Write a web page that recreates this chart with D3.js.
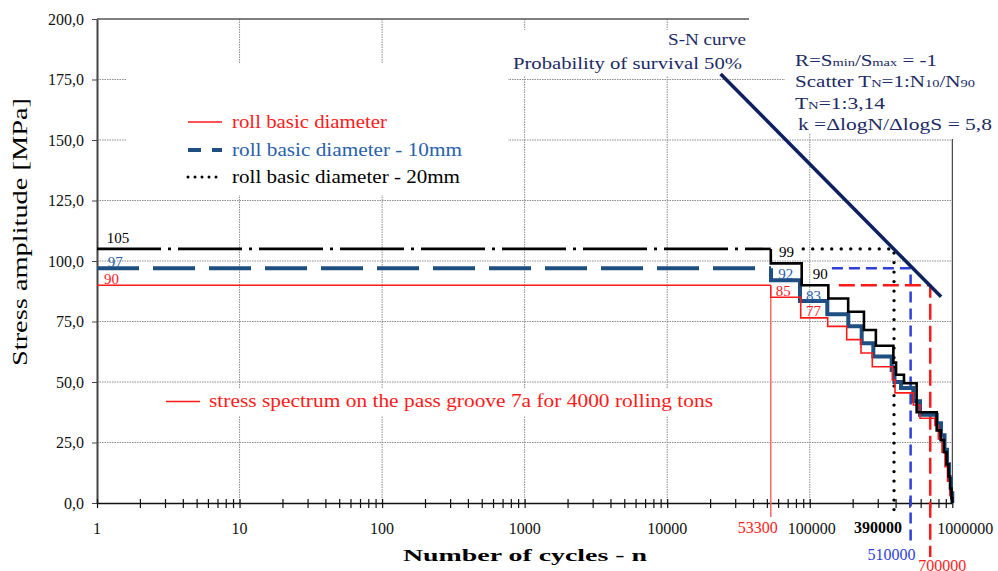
<!DOCTYPE html>
<html>
<head>
<meta charset="utf-8">
<script src="https://cdn.jsdelivr.net/npm/d3@7"></script>
<style>
  body { margin: 0; background: #fff; }
  svg { display: block; font-family: "Liberation Serif", "Times New Roman", Times, serif; }
</style>
</head>
<body>
<div id="chart"></div>
<script>
// ---- data ----
let stressTicks = [0, 25, 50, 75, 100, 125, 150, 175, 200];
let cycleTicks = [1, 10, 100, 1000, 10000, 100000, 1000000];

// roll basic diameter - 20mm (black)
let blackCycles = [1, 53300, 87800, 135000, 186000, 240000, 291000, 386000, 403000, 458000,
                   562000, 777000, 829000, 875000, 911000, 940000, 964000, 987000, 1000000];
let blackStress = [105, 99, 90, 84.5, 79, 71.5, 65, 58, 53, 49.5,
                   37.5, 30, 26, 21, 16, 11, 6, 2, 0];

// roll basic diameter - 10mm (blue)
let blueCycles = [1, 53500, 85400, 132800, 186400, 231400, 279200, 375700, 393000, 436800,
                  532600, 593500, 777300, 833200, 881800, 918200, 948300, 979400, 1000000];
let blueStress = [97, 92, 83.5, 78, 73, 66, 60.5, 55, 50, 47.5,
                  42, 36.5, 33, 28, 22, 16, 10, 4, 0];

// roll basic diameter (red)
let redCycles = [1, 53300, 86400, 133600, 181600, 228800, 274700, 379500, 396300, 532600,
                 593500, 756300, 797800, 847000, 888900, 925500, 963600, 1000000];
let redStress = [90, 85, 76.5, 73, 67.5, 62, 56.3, 50.8, 45.5, 40.5,
                 35, 32, 26.5, 21, 15, 9, 3, 0];

// S-N curve, probability of survival 50%
let snCycles = [23700, 834000];
let snStress = [177.3, 85.2];

// intersection markers (20mm, 10mm, basic)
let markerFrom = [90000, 143000, 160000];
let markerCycles = [390000, 510000, 700000];
let markerStress = [105, 97, 90];

// value labels on the steps
let labelText = ["105", "97", "90", "99", "92", "85", "83", "77", "90"];
let labelCycles = [1.17, 1.19, 1.12, 60900, 60000, 57800, 94200, 94200, 104900];
let labelStress = [105, 97, 90, 99, 92, 85, 83, 77, 90];
let labelSeries = ["k", "b", "r", "k", "b", "r", "b", "r", "k"];

// special x labels
let specialCycles = [53300, 390000, 510000, 700000];
let specialText = ["53300", "390000", "510000", "700000"];

// ---- drawing ----
let w = 998;
let h = 571;

let colors = {
  r: "#ff1a1a",
  b: "#1f4e80",
  k: "#000000",
  bText: "#2a5fab",
  navy: "#0e2060",
  navyText: "#1b2a66",
  markBlue: "#2f3fd8"
};

let svg = d3.select("#chart")
  .append("svg")
    .attr("width", w)
    .attr("height", h)
    .style("background-color", "white");

let x = d3.scaleLog().domain([1, 1000000]).range([97, 952.3]);
let y = d3.scaleLinear().domain([0, 200]).range([503, 19]);

//grid
let grid = svg.append("g")
  .attr("stroke", "#8c8c8c")
  .attr("stroke-width", 1)
  .attr("stroke-dasharray", "1.5,1");

grid.selectAll(".hg")
  .data(stressTicks.filter(d => d > 0 && d < 200))
  .enter().append("line")
    .attr("x1", x(1)).attr("x2", x(1000000))
    .attr("y1", d => y(d)).attr("y2", d => y(d));

grid.selectAll(".vg")
  .data(cycleTicks.filter(d => d > 1 && d < 1000000))
  .enter().append("line")
    .attr("x1", d => x(d)).attr("x2", d => x(d))
    .attr("y1", y(200)).attr("y2", y(0));

// white boxes behind the text blocks
let boxes = [[126, 63, 382, 132], [505, 30, 245, 46], [785, 0, 213, 133], [160, 388, 560, 28]];
svg.selectAll(".box")
  .data(boxes)
  .enter().append("rect")
    .attr("x", d => d[0]).attr("y", d => d[1])
    .attr("width", d => d[2]).attr("height", d => d[3])
    .attr("fill", "white");

// frame
svg.append("line")
  .attr("x1", x(1)).attr("x2", 749)
  .attr("y1", y(200)).attr("y2", y(200))
  .attr("stroke", "#555").attr("stroke-width", 1.5);
svg.append("line")
  .attr("x1", x(1000000)).attr("x2", x(1000000))
  .attr("y1", 139).attr("y2", y(0))
  .attr("stroke", "#222").attr("stroke-width", 1);

//y axis
let fmt = d3.format(".1f");
let yAxis = svg.append("g")
  .attr("transform", "translate(" + x(1) + ",0)")
  .style("font-size", "16px")
  .style("font-family", "'Liberation Serif', 'Times New Roman', serif")
  .call(d3.axisLeft(y).tickValues(stressTicks).tickSize(5).tickSizeOuter(0).tickPadding(8)
    .tickFormat(d => fmt(d).replace(".", ",")));
yAxis.select(".domain").attr("stroke", "#444").attr("stroke-width", 2);
yAxis.selectAll(".tick line").attr("stroke", "#444");
yAxis.selectAll(".tick text").attr("fill", "#111");

//x axis (ticks only)
let xAxis = svg.append("g")
  .attr("transform", "translate(0," + y(0) + ")")
  .call(d3.axisBottom(x).tickValues(x.ticks()).tickFormat("").tickSizeOuter(0));
xAxis.select(".domain").attr("stroke", "#111").attr("stroke-width", 1.5);
xAxis.selectAll(".tick line").attr("y1", -4).attr("y2", 5).attr("stroke", "#111").attr("stroke-width", 1.2);

// x labels
let decadeShift = [0, 0, 0, 0, 0, 2, 13];
svg.selectAll(".xl")
  .data(cycleTicks)
  .enter().append("text")
    .attr("x", (d, i) => x(d) + decadeShift[i])
    .attr("y", 534)
    .attr("text-anchor", "middle")
    .style("font-size", "16px")
    .attr("fill", "#111")
    .text(d => d);

let specialShift = [-13, -16, -19, 12];
let specialY = [533, 533, 560, 571];
let specialColor = [colors.r, "#000", colors.markBlue, colors.r];
svg.selectAll(".xs")
  .data(specialCycles)
  .enter().append("text")
    .attr("x", (d, i) => x(d) + specialShift[i])
    .attr("y", (d, i) => specialY[i])
    .attr("text-anchor", "middle")
    .style("font-size", "16px")
    .style("font-weight", (d, i) => i == 1 ? "bold" : "normal")
    .attr("fill", (d, i) => specialColor[i])
    .text((d, i) => specialText[i]);

// axis titles
svg.append("text")
  .attr("x", 525).attr("y", 561)
  .attr("text-anchor", "middle")
  .style("font-size", "17px").style("font-weight", "bold")
  .attr("textLength", 244).attr("lengthAdjust", "spacingAndGlyphs")
  .text("Number of cycles - n");

svg.append("text")
  .attr("transform", "translate(27,232) rotate(-90)")
  .attr("text-anchor", "middle")
  .style("font-size", "21px")
  .attr("textLength", 268).attr("lengthAdjust", "spacingAndGlyphs")
  .text("Stress amplitude [MPa]");

// marker lines (drawn under the spectra)
let markerColor = ["#000", colors.markBlue, colors.r];
let markerDash = ["0,9.5", "11,6", "16,6"];
let markerWidth = [3.4, 2.5, 2.5];
let markerFoot = [10, 42, 54];
markerCycles.forEach(function(m, i) {
  let pts = [[x(markerFrom[i]), y(markerStress[i])], [x(m), y(markerStress[i])], [x(m), y(0) + markerFoot[i]]];
  svg.append("path")
    .attr("d", d3.line()(pts))
    .attr("fill", "none")
    .attr("stroke", markerColor[i])
    .attr("stroke-width", markerWidth[i])
    .attr("stroke-linecap", i == 0 ? "round" : "butt")
    .attr("stroke-dasharray", markerDash[i]);
});

// thin red drop line at first step of basic spectrum
svg.append("line")
  .attr("x1", x(redCycles[1])).attr("x2", x(redCycles[1]))
  .attr("y1", y(redStress[1])).attr("y2", y(0) + 14)
  .attr("stroke", "#f26a6a").attr("stroke-width", 1.5);

// spectra
let stepLine = d3.line().x(d => x(d[0])).y(d => y(d[1])).curve(d3.curveStepAfter);

function drawSpectrum(cyc, st, color, width, firstDash) {
  // first long level
  svg.append("line")
    .attr("x1", x(cyc[0])).attr("x2", x(cyc[1]))
    .attr("y1", y(st[0])).attr("y2", y(st[0]))
    .attr("stroke", color).attr("stroke-width", width)
    .attr("stroke-dasharray", firstDash);
  let pts = [[cyc[1], st[0]]];
  for (let i = 1; i < cyc.length; i++) {
    pts.push([cyc[i], st[i]]);
  }
  svg.append("path")
    .attr("d", stepLine(pts))
    .attr("fill", "none")
    .attr("stroke", color)
    .attr("stroke-width", width);
}

drawSpectrum(blueCycles, blueStress, colors.b, 4, "42,14");
drawSpectrum(redCycles, redStress, colors.r, 1.6, null);
drawSpectrum(blackCycles, blackStress, colors.k, 2.6, "64,7,3,7");

// S-N curve
svg.append("line")
  .attr("x1", x(snCycles[0])).attr("x2", x(snCycles[1]))
  .attr("y1", y(snStress[0])).attr("y2", y(snStress[1]))
  .attr("stroke", colors.navy).attr("stroke-width", 3.5);

// step labels
let labelColor = { k: "#000", b: colors.bText, r: colors.r };
let labelLift = { k: 6, b: 1, r: 1 };
svg.selectAll(".lbl")
  .data(labelText)
  .enter().append("text")
    .attr("x", (d, i) => x(labelCycles[i]))
    .attr("y", (d, i) => y(labelStress[i]) - labelLift[labelSeries[i]])
    .style("font-size", "15px")
    .attr("fill", (d, i) => labelColor[labelSeries[i]])
    .text(d => d);

// legend
let legendText = ["roll basic diameter", "roll basic diameter - 10mm", "roll basic diameter - 20mm"];
let legendColor = [colors.r, colors.bText, "#000"];
let legendLen = [155, 230, 228];
let legendY = [122, 150, 177];
let legendStroke = [colors.r, colors.b, "#000"];
let legendDash = [null, "13,11", "0,7"];
let legendWidth = [1.6, 4, 3];
legendText.forEach(function(t, i) {
  svg.append("line")
    .attr("x1", 188).attr("x2", 222)
    .attr("y1", legendY[i]).attr("y2", legendY[i])
    .attr("stroke", legendStroke[i])
    .attr("stroke-width", legendWidth[i])
    .attr("stroke-linecap", i == 2 ? "round" : "butt")
    .attr("stroke-dasharray", legendDash[i]);
  svg.append("text")
    .attr("x", 232).attr("y", legendY[i] + 6)
    .style("font-size", "18px")
    .attr("fill", legendColor[i])
    .attr("textLength", legendLen[i]).attr("lengthAdjust", "spacingAndGlyphs")
    .text(t);
});

svg.append("line")
  .attr("x1", 166).attr("x2", 200)
  .attr("y1", 401.5).attr("y2", 401.5)
  .attr("stroke", colors.r).attr("stroke-width", 1.6);
svg.append("text")
  .attr("x", 209).attr("y", 407)
  .style("font-size", "18px")
  .attr("fill", colors.r)
  .attr("textLength", 504).attr("lengthAdjust", "spacingAndGlyphs")
  .text("stress spectrum on the pass groove 7a for 4000 rolling tons");

// S-N annotation
svg.append("text")
  .attr("x", 668).attr("y", 45)
  .style("font-size", "16px").attr("fill", colors.navyText)
  .attr("textLength", 78).attr("lengthAdjust", "spacingAndGlyphs")
  .text("S-N curve");
svg.append("text")
  .attr("x", 513).attr("y", 69)
  .style("font-size", "16px").attr("fill", colors.navyText)
  .attr("textLength", 229).attr("lengthAdjust", "spacingAndGlyphs")
  .text("Probability of survival 50%");

// parameter block
let par = svg.append("g").style("font-size", "16px").attr("fill", colors.navyText);

let l1 = par.append("text").attr("x", 795).attr("y", 66)
  .attr("textLength", 142).attr("lengthAdjust", "spacingAndGlyphs");
l1.append("tspan").text("R=S");
l1.append("tspan").style("font-size", "11px").text("min");
l1.append("tspan").text("/S");
l1.append("tspan").style("font-size", "11px").text("max");
l1.append("tspan").text(" = -1");

let l2 = par.append("text").attr("x", 795).attr("y", 87)
  .attr("textLength", 180).attr("lengthAdjust", "spacingAndGlyphs");
l2.append("tspan").text("Scatter T");
l2.append("tspan").style("font-size", "11px").text("N");
l2.append("tspan").text("=1:N");
l2.append("tspan").style("font-size", "11px").text("10");
l2.append("tspan").text("/N");
l2.append("tspan").style("font-size", "11px").text("90");

let l3 = par.append("text").attr("x", 795).attr("y", 109)
  .attr("textLength", 90).attr("lengthAdjust", "spacingAndGlyphs");
l3.append("tspan").text("T");
l3.append("tspan").style("font-size", "11px").text("N");
l3.append("tspan").text("=1:3,14");

par.append("text").attr("x", 798).attr("y", 130)
  .attr("textLength", 194).attr("lengthAdjust", "spacingAndGlyphs")
  .text("k =\u0394logN/\u0394logS = 5,8");
</script>
</body>
</html>
